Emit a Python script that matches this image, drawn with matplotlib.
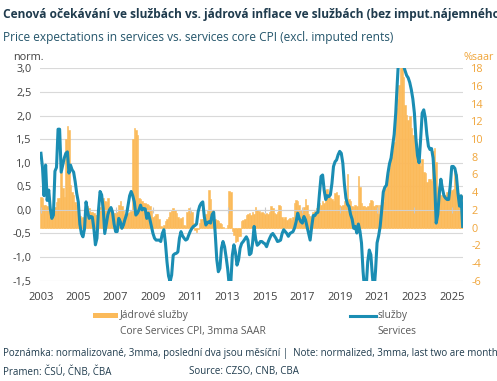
import numpy as np
import matplotlib
matplotlib.use('Agg')
import matplotlib.pyplot as plt
from matplotlib.lines import Line2D
from matplotlib.patches import Rectangle

plt.rcParams['font.family'] = ['Open Sans', 'DejaVu Sans']

start_year = 2003

# ocekavani ve sluzbach, normalizovane (leva osa), mesicne od 1/2003
services = [
    1.2, 0.9, 0.3, 0.95, 0.2, 0.42, 0.03, -0.18, -0.11, 0.82, 0.9, 1.71,          # 2003
    1.71, 0.8, 0.95, 1.1, 1.2, 1.23, 0.78, 0.95, 0.85, 0.8, 0.6, 0.35,           # 2004
    0.17, -0.3, -0.5, -0.57, -0.4, 0.17, -0.04, -0.18, -0.14, -0.15, -0.39, -0.74,  # 2005
    -0.6, 0.0, 0.39, 0.32, 0.03, -0.5, -0.3, -0.1, 0.0, 0.05, -0.05, -0.3,       # 2006
    -0.46, -0.46, -0.18, -0.25, -0.39, -0.32, -0.2, -0.1, 0.1, 0.3, 0.39, 0.3,    # 2007
    0.17, -0.11, -0.07, 0.0, 0.1, 0.0, 0.03, 0.02, -0.18, -0.07, -0.2, -0.35,     # 2008
    -0.5, -0.6, -0.64, -0.64, -0.64, -0.67, -0.5, -0.42, -0.7, -1.1, -1.4, -1.52, # 2009
    -1.38, -0.96, -0.93, -0.92, -0.89, -0.6, -0.46, -0.55, -0.6, -0.64, -0.62, -0.53,  # 2010
    -0.45, -0.39, -0.35, -0.33, -0.3, -0.04, 0.08, 0.14, 0.17, -0.15, -0.32, -0.27,   # 2011
    -0.25, -0.28, -0.1, -0.05, -0.5, -1.05, -1.31, -1.24, -0.81, -0.67, -0.78, -1.0,  # 2012
    -1.25, -1.6, -1.55, -0.96, -0.74, -0.9, -1.17, -1.06, -0.81, -0.71, -0.67, -0.62, # 2013
    -0.57, -0.64, -0.95, -0.92, -0.7, -0.35, -0.62, -0.75, -0.72, -0.67, -0.67, -0.7, # 2014
    -0.72, -0.78, -0.68, -0.6, -0.53, -0.5, -0.55, -0.6, -0.67, -0.66, -0.64, -0.5,   # 2015
    -0.42, -0.46, -0.5, -0.56, -0.5, -0.48, -0.46, -0.38, -0.25, -0.07, -0.18, -0.25, # 2016
    -0.28, -0.14, -0.21, -0.35, -0.5, -0.64, -0.35, -0.12, -0.12, -0.07, -0.05, 0.35, # 2017
    0.71, 0.74, 0.42, 0.22, 0.3, 0.28, 0.32, 0.56, 0.92, 1.02, 1.06, 1.17,        # 2018
    1.24, 1.2, 0.99, 0.55, 0.25, 0.12, 0.07, -0.1, -0.2, -0.39, -0.35, -0.49,     # 2019
    -0.3, -0.45, -0.7, -1.3, -1.7, -1.65, -1.1, -0.85, -0.95, -1.4, -1.75, -1.3,  # 2020
    -0.7, -0.55, -0.35, 0.0, 0.38, 0.48, 0.52, 0.78, 0.98, 1.1, 1.35, 1.6,       # 2021
    2.05, 2.7, 3.3, 3.4, 3.2, 3.05, 2.95, 2.85, 2.8, 2.7, 2.55, 2.35,            # 2022
    2.05, 1.5, 1.15, 1.0, 1.5, 2.05, 2.12, 1.95, 1.6, 1.35, 1.28, 1.3,           # 2023
    1.1, 0.6, -0.28, -0.1, 0.35, 0.65, 0.45, 0.3, 0.25, 0.22, 0.22, 0.5,         # 2024
    0.92, 0.92, 0.88, 0.72, 0.35, 0.08, 0.3, -0.35,                              # 2025
]

# jadrove sluzby, 3mma SAAR v % (prava osa)
core_services = [
    3.5, 3.3, 2.6, 2.5, 2.4, 2.2, 2.0, 1.6, 1.4, 2.3, 2.9, 3.3,       # 2003
    3.3, 6.3, 4.5, 3.5, 10.0, 11.5, 11.0, 4.8, 4.0, 3.7, 2.9, 2.5,    # 2004
    2.2, 1.3, 1.1, 1.2, 1.7, 2.0, 2.4, 2.2, 1.8, 1.8, 1.6, 1.4,       # 2005
    1.4, 2.0, 2.3, 2.8, 3.3, 3.0, 2.9, 3.3, 2.2, 1.8, 1.8, 1.7,       # 2006
    1.7, 1.8, 2.5, 3.0, 2.4, 2.0, 1.5, 1.4, 1.6, 1.8, 1.9, 10.0,      # 2007
    11.2, 11.0, 10.5, 3.3, 3.2, 3.0, 2.8, 2.8, 2.7, 2.5, 2.4, 2.0,    # 2008
    1.2, 1.3, 1.5, 1.5, 1.0, 0.2, 0.1, 0.3, 0.8, 1.0, 1.2, 1.8,       # 2009
    2.0, 2.2, 2.0, 1.6, 1.2, 1.0, 1.1, 1.2, 0.3, 0.2, 1.8, 2.2,       # 2010
    2.0, 1.8, 0.5, -0.3, -0.5, -0.2, 0.5, 1.0, 1.0, 1.2, 1.5, 2.0,    # 2011
    4.2, 3.2, 2.0, 1.8, 1.0, 0.9, 0.8, 0.5, 0.4, 0.1, -0.1, 0.0,      # 2012
    0.3, 4.1, 4.0, -0.4, -0.8, -1.6, -1.5, -1.0, -0.9, 0.8, 0.9, 1.0, # 2013
    1.4, 1.5, 1.6, 1.4, 1.8, 1.5, 2.3, 2.0, 1.9, 1.6, 1.8, 1.7,       # 2014
    1.5, 1.6, 1.5, 1.8, 2.4, 2.2, 1.6, 1.5, 1.8, 2.6, 2.4, 1.2,       # 2015
    1.0, 1.2, 0.9, 1.0, 1.1, 0.9, 1.2, 2.8, 3.1, 3.0, 2.5, 2.0,       # 2016
    2.0, 2.3, 3.2, 2.5, 1.5, 1.3, 1.2, 1.8, 1.9, 2.2, 2.5, 2.8,       # 2017
    2.6, 3.0, 2.8, 4.2, 4.4, 3.5, 3.3, 3.2, 3.0, 3.9, 4.0, 3.7,       # 2018
    2.5, 2.4, 2.6, 3.0, 3.2, 6.0, 3.2, 3.0, 2.4, 2.3, 2.5, 2.4,       # 2019
    5.8, 4.6, 2.8, 2.4, 2.4, 2.3, 2.4, 2.8, 3.1, 3.0, 2.4, 2.6,       # 2020
    2.5, 1.5, 2.6, 3.0, 2.9, 4.4, 4.6, 6.0, 6.7, 8.0, 8.6, 9.7,       # 2021
    13.5, 14.5, 16.1, 19.0, 19.0, 17.0, 13.8, 12.7, 12.2, 12.6, 11.2, 10.5,  # 2022
    10.5, 9.5, 8.0, 7.4, 7.0, 7.7, 6.3, 6.2, 5.2, 5.5, 5.5, 5.3,      # 2023
    8.6, 9.0, 7.4, 4.6, 4.0, 3.7, 3.5, 3.7, 3.7, 4.0, 3.9, 4.0,       # 2024
    4.3, 4.4, 6.3, 6.0, 3.9, 3.7, 3.5, 3.7,                           # 2025
]

year_ticks = list(range(2003, 2026, 2))
left_ticks = [3.0, 2.5, 2.0, 1.5, 1.0, 0.5, 0.0, -0.5, -1.0, -1.5]
left_labels = ['3,0', '2,5', '2,0', '1,5', '1,0', '0,5', '0,0', '-0,5', '-1,0', '-1,5']
right_ticks = [18, 16, 14, 12, 10, 8, 6, 4, 2, 0, -2, -4, -6]

orange = '#FBBA5A'
blue = '#1A8DB3'
grey_txt = '#404040'
dark = '#1F3B4D'

months = start_year + np.arange(len(services)) / 12.0

fig = plt.figure(figsize=(4.97, 3.81), dpi=100)
ax = fig.add_axes([0.0805, 0.2633, 0.851, 0.5574])

# leva osa - jen mrizka a popisky
ax.set_ylim(-1.5, 3.0)
ax.set_xlim(2002.95, 2025.6)
ax.set_yticks(left_ticks)
ax.set_yticklabels(left_labels)
ax.set_xticks(year_ticks)
ax.set_xticklabels([str(y) for y in year_ticks])
ax.grid(axis='y', color='#D9D9D9', linewidth=0.8)
ax.tick_params(axis='y', length=0, labelsize=7.8, colors=grey_txt, pad=6)
ax.tick_params(axis='x', length=0, labelsize=8, colors=grey_txt, pad=8)
for s in ax.spines.values():
    s.set_visible(False)

# prava osa - sloupce jadrove sluzby
ax2 = ax.twinx()
ax2.bar(months, core_services, width=1 / 12.0, color=orange, edgecolor=orange,
        linewidth=0.4, align='center')
ax2.set_ylim(-6, 18)
ax2.set_yticks(right_ticks)
ax2.set_yticklabels([str(t) for t in right_ticks])
ax2.tick_params(axis='y', length=0, labelsize=7.8, colors='#F0A53A', pad=6)
for s in ax2.spines.values():
    s.set_visible(False)

# treti osa pro caru (aby byla nad sloupci)
ax3 = ax.twinx()
ax3.set_ylim(-1.5, 3.0)
ax3.axhline(0, color='#D0D0D0', linewidth=0.8, zorder=1)
ax3.plot(months, services, color=blue, linewidth=2.2, zorder=3, solid_joinstyle='round')
ax3.set_yticks([])
for s in ax3.spines.values():
    s.set_visible(False)
sec = ax3.secondary_xaxis(1.5 / 4.5)
sec.set_xticks(year_ticks)
sec.tick_params(axis='x', direction='inout', length=4, width=0.8, color='#C8C8C8', labelbottom=False)
sec.spines['bottom'].set_visible(False)

# popisky os
fig.text(0.087, 0.835, 'norm.', fontsize=7.8, color=grey_txt, ha='right', va='bottom')
fig.text(0.994, 0.835, '%saar', fontsize=7.8, color='#F0A53A', ha='right', va='bottom')

# nadpisy
fig.text(0.006, 0.962, 'Cenová očekávání ve službách vs. jádrová inflace ve službách (bez imput.nájemného)',
         fontsize=8.6, fontweight='bold', color=dark, ha='left', va='center')
fig.text(0.006, 0.902, 'Price expectations in services vs. services core CPI (excl. imputed rents)',
         fontsize=8.6, color='#24556B', ha='left', va='center')

# legenda
fig.patches.append(Rectangle((0.187, 0.165), 0.051, 0.013, transform=fig.transFigure,
                             facecolor=orange, edgecolor='none'))
fig.text(0.242, 0.171, 'Jádrové služby', fontsize=7.4, color='#595959', va='center')
fig.text(0.242, 0.131, 'Core Services CPI, 3mma SAAR', fontsize=7.4, color='#595959', va='center')
fig.lines.append(Line2D([0.704, 0.757], [0.171, 0.171], transform=fig.transFigure,
                        color=blue, linewidth=2.2))
fig.text(0.760, 0.171, 'služby', fontsize=7.4, color='#595959', va='center')
fig.text(0.760, 0.131, 'Services', fontsize=7.4, color='#595959', va='center')

# poznamka a pramen
fig.text(0.006, 0.071, 'Poznámka: normalizované, 3mma, poslední dva jsou měsíční |  Note: normalized, 3mma, last two are monthly',
         fontsize=7, color=dark, va='center')
fig.text(0.006, 0.024, 'Pramen: ČSÚ, ČNB, ČBA', fontsize=7, color=dark, va='center')
fig.text(0.38, 0.024, 'Source: CZSO, CNB, CBA', fontsize=7, color=dark, va='center')

fig.savefig('out.png', dpi=100)
plt.close(fig)
